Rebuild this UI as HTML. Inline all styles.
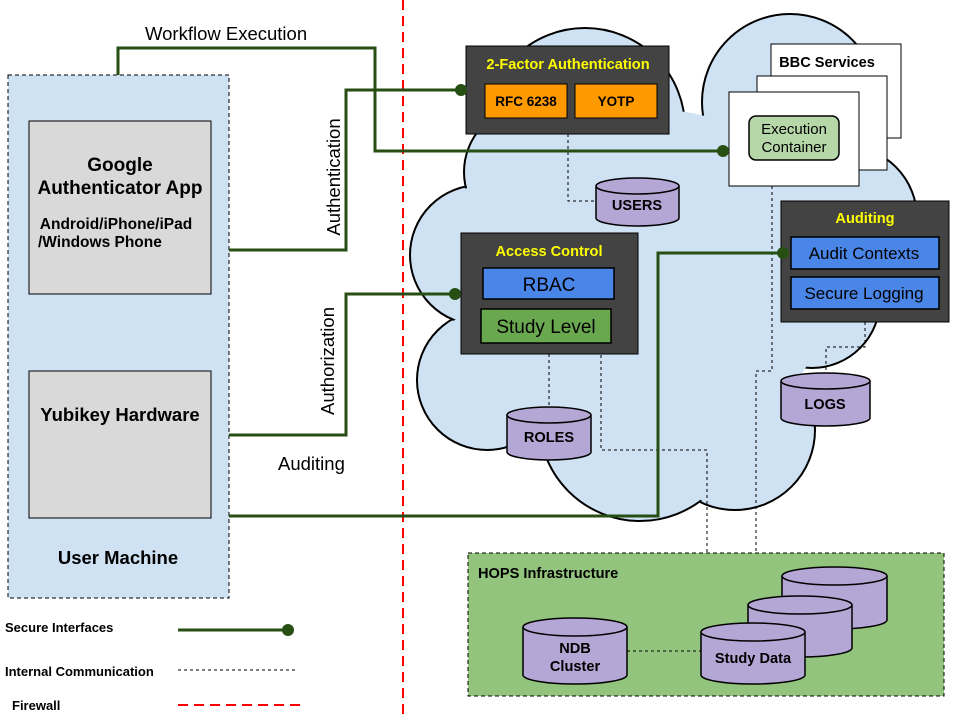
<!DOCTYPE html>
<html><head><meta charset="utf-8"><style>
html,body{margin:0;padding:0;background:#fff;width:960px;height:720px;overflow:hidden}
svg{display:block;font-family:"Liberation Sans",Arial,sans-serif}
</style></head><body>
<svg width="960" height="720" viewBox="0 0 960 720" xmlns="http://www.w3.org/2000/svg">
<!-- Cloud -->
<g stroke="#000" stroke-width="2" fill="#cfe2f3">
<circle cx="585" cy="128" r="100"/><circle cx="790" cy="102" r="88"/><circle cx="845" cy="218" r="72"/>
<circle cx="812" cy="300" r="68"/><circle cx="735" cy="430" r="80"/><circle cx="640" cy="420" r="101"/>
<circle cx="487" cy="380" r="70"/><circle cx="480" cy="255" r="70"/><circle cx="530" cy="172" r="66"/>
</g>
<g fill="#cfe2f3">
<circle cx="585" cy="128" r="98"/><circle cx="790" cy="102" r="86"/><circle cx="845" cy="218" r="70"/>
<circle cx="812" cy="300" r="66"/><circle cx="735" cy="430" r="78"/><circle cx="640" cy="420" r="99"/>
<circle cx="487" cy="380" r="68"/><circle cx="480" cy="255" r="68"/><circle cx="530" cy="172" r="64"/>
<circle cx="660" cy="280" r="170"/>
</g>
<!-- firewall -->
<line x1="403" y1="0" x2="403" y2="720" stroke="#f00" stroke-width="2" stroke-dasharray="10,6"/>
<!-- user machine -->
<rect x="8" y="75" width="221" height="523" fill="#cfe2f3" stroke="#000" stroke-dasharray="4,3"/>
<rect x="29" y="121" width="182" height="173" fill="#d9d9d9" stroke="#000"/>
<text x="120" y="171" font-size="19" font-weight="bold" text-anchor="middle">Google</text>
<text x="120" y="194" font-size="19" font-weight="bold" text-anchor="middle">Authenticator App</text>
<text x="116" y="229" font-size="15.5" font-weight="bold" text-anchor="middle">Android/iPhone/iPad</text>
<text x="38" y="247" font-size="15.5" font-weight="bold">/Windows Phone</text>
<rect x="29" y="371" width="182" height="147" fill="#d9d9d9" stroke="#000"/>
<text x="120" y="421" font-size="18.5" font-weight="bold" text-anchor="middle">Yubikey Hardware</text>
<text x="118" y="564" font-size="18.5" font-weight="bold" text-anchor="middle">User Machine</text>
<!-- dashed internal lines -->
<g stroke="#000" stroke-width="1" stroke-dasharray="3,3" fill="none">
<polyline points="568,134 568,201 596,201"/>
<polyline points="549,354 549,406"/>
<polyline points="601,343 601,450 707,450 707,553"/>
<polyline points="772,186 772,371 756,371 756,553"/>
<polyline points="865,322 865,347 826,347 826,372"/>
</g>
<!-- 2FA -->
<rect x="466" y="46" width="203" height="88" fill="#434343" stroke="#000"/>
<text x="568" y="69" font-size="14.6" font-weight="bold" fill="#ffff00" text-anchor="middle">2-Factor Authentication</text>
<rect x="485" y="84" width="82" height="34" fill="#ff9900" stroke="#000"/>
<text x="526" y="106" font-size="13.5" font-weight="bold" text-anchor="middle">RFC 6238</text>
<rect x="575" y="84" width="82" height="34" fill="#ff9900" stroke="#000"/>
<text x="616" y="106" font-size="13.5" font-weight="bold" text-anchor="middle">YOTP</text>
<!-- BBC -->
<rect x="771" y="44" width="130" height="94" fill="#fff" stroke="#000"/>
<text x="827" y="67" font-size="14.6" font-weight="bold" text-anchor="middle">BBC Services</text>
<rect x="757" y="76" width="130" height="94" fill="#fff" stroke="#000"/>
<rect x="729" y="92" width="130" height="94" fill="#fff" stroke="#000"/>
<rect x="749" y="116" width="90" height="44" rx="7" fill="#b6d7a8" stroke="#000" stroke-width="1.5"/>
<text x="794" y="134" font-size="15" text-anchor="middle">Execution</text>
<text x="794" y="152" font-size="15" text-anchor="middle">Container</text>
<!-- Access control -->
<rect x="461" y="233" width="177" height="121" fill="#434343" stroke="#000"/>
<text x="549" y="256" font-size="14.6" font-weight="bold" fill="#ffff00" text-anchor="middle">Access Control</text>
<rect x="483" y="268" width="131" height="31" fill="#4a86e8" stroke="#000" stroke-width="1.5"/>
<text x="549" y="291" font-size="19" text-anchor="middle">RBAC</text>
<rect x="481" y="309" width="130" height="34" fill="#6aa84f" stroke="#000" stroke-width="1.5"/>
<text x="546" y="333" font-size="19" text-anchor="middle">Study Level</text>
<!-- Auditing -->
<rect x="781" y="201" width="168" height="121" fill="#434343" stroke="#000"/>
<text x="865" y="223" font-size="14.6" font-weight="bold" fill="#ffff00" text-anchor="middle">Auditing</text>
<rect x="791" y="237" width="148" height="32" fill="#4a86e8" stroke="#000" stroke-width="1.5"/>
<text x="864" y="259" font-size="17" text-anchor="middle">Audit Contexts</text>
<rect x="791" y="277" width="148" height="32" fill="#4a86e8" stroke="#000" stroke-width="1.5"/>
<text x="864" y="299" font-size="17" text-anchor="middle">Secure Logging</text>
<!-- cylinders -->
<g stroke="#000" stroke-width="1.5" fill="#b4a7d6">
<path d="M596,186 v32 a41.5,8 0 0 0 83,0 v-32"/><ellipse cx="637.5" cy="186" rx="41.5" ry="8"/>
<path d="M507,415 v37 a42,8 0 0 0 84,0 v-37"/><ellipse cx="549" cy="415" rx="42" ry="8"/>
<path d="M781,381 v37 a44.5,8 0 0 0 89,0 v-37"/><ellipse cx="825.5" cy="381" rx="44.5" ry="8"/>
</g>
<text x="637" y="210" font-size="14.6" font-weight="bold" text-anchor="middle">USERS</text>
<text x="549" y="442" font-size="14.6" font-weight="bold" text-anchor="middle">ROLES</text>
<text x="825" y="409" font-size="14.6" font-weight="bold" text-anchor="middle">LOGS</text>
<!-- HOPS -->
<rect x="468" y="553" width="476" height="143" fill="#93c47d" stroke="#000" stroke-dasharray="4,3"/>
<text x="478" y="578" font-size="14.6" font-weight="bold">HOPS Infrastructure</text>
<line x1="627" y1="651" x2="701" y2="651" stroke="#000" stroke-dasharray="3,3"/>
<g stroke="#000" stroke-width="1.5" fill="#b4a7d6">
<path d="M782,576 v44 a52.5,9 0 0 0 105,0 v-44"/><ellipse cx="834.5" cy="576" rx="52.5" ry="9"/>
<path d="M748,605 v43 a52,9 0 0 0 104,0 v-43"/><ellipse cx="800" cy="605" rx="52" ry="9"/>
<path d="M701,632 v43 a52,9 0 0 0 104,0 v-43"/><ellipse cx="753" cy="632" rx="52" ry="9"/>
<path d="M523,627 v48 a52,9 0 0 0 104,0 v-48"/><ellipse cx="575" cy="627" rx="52" ry="9"/>
</g>
<text x="753" y="663" font-size="14.6" font-weight="bold" text-anchor="middle">Study Data</text>
<text x="575" y="653" font-size="14.6" font-weight="bold" text-anchor="middle">NDB</text>
<text x="575" y="671" font-size="14.6" font-weight="bold" text-anchor="middle">Cluster</text>
<!-- green interface lines -->
<g stroke="#274e13" stroke-width="3" fill="none">
<polyline points="118,75 118,48 375,48 375,151 723,151"/>
<polyline points="229,250 346,250 346,90 461,90"/>
<polyline points="229,435 346,435 346,294 455,294"/>
<polyline points="229,516 658,516 658,253 783,253"/>
<line x1="178" y1="630" x2="288" y2="630"/>
</g>
<g fill="#274e13">
<circle cx="723" cy="151" r="6"/><circle cx="461" cy="90" r="6"/><circle cx="455" cy="294" r="6"/>
<circle cx="783" cy="253" r="6"/><circle cx="288" cy="630" r="6"/>
</g>
<text x="145" y="40" font-size="18.5">Workflow Execution</text>
<text x="278" y="470" font-size="18.5">Auditing</text>
<text transform="translate(340,177) rotate(-90)" font-size="18.5" text-anchor="middle">Authentication</text>
<text transform="translate(334,361) rotate(-90)" font-size="18.5" text-anchor="middle">Authorization</text>
<!-- legend -->
<text x="5" y="632" font-size="13" font-weight="bold">Secure Interfaces</text>
<text x="5" y="676" font-size="13" font-weight="bold">Internal Communication</text>
<text x="12" y="710" font-size="13" font-weight="bold">Firewall</text>
<line x1="178" y1="670" x2="297" y2="670" stroke="#000" stroke-dasharray="3,3"/>
<line x1="178" y1="705" x2="300" y2="705" stroke="#f00" stroke-width="2" stroke-dasharray="10,6"/>
</svg>
</body></html>
